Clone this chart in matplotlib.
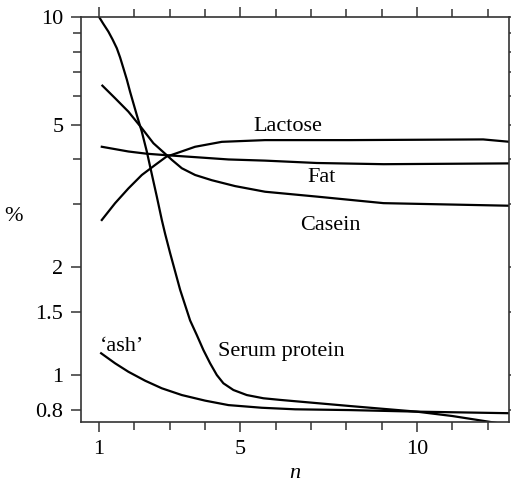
import numpy as np
import matplotlib.pyplot as plt
from matplotlib.ticker import FixedLocator, NullFormatter, FixedFormatter

plt.rcParams['font.family'] = ['Liberation Serif', 'DejaVu Serif']
plt.rcParams['font.size'] = 16

# values (n, percent)
serum_n = [1.0, 1.113, 1.263, 1.382, 1.501, 1.594, 1.688, 1.784, 1.877, 2.067, 2.209, 2.35, 2.444, 2.633,
           2.775, 2.868, 3.01, 3.293, 3.576, 3.765, 3.952, 4.142, 4.331, 4.518, 4.801, 5.18, 5.65, 6.123,
           8.104, 9.0, 9.99, 11.0, 12.01, 12.6]
serum_y = [10.0, 9.59, 9.10, 8.65, 8.18, 7.71, 7.19, 6.69, 6.18, 5.32, 4.78, 4.21, 3.82, 3.15,
           2.71, 2.48, 2.19, 1.73, 1.42, 1.293, 1.174, 1.078, 1.0, 0.948, 0.908, 0.879, 0.861, 0.852,
           0.819, 0.805, 0.79, 0.768, 0.741, 0.725]

ash_n = [1.057, 1.453, 1.829, 2.302, 2.775, 3.341, 4.0, 4.66, 5.605, 6.548, 8.1, 10.0, 12.63]
ash_y = [1.15, 1.078, 1.021, 0.964, 0.918, 0.879, 0.848, 0.824, 0.810, 0.802, 0.798, 0.790, 0.782]

fat_n = [1.076, 1.83, 2.35, 2.916, 3.717, 4.66, 5.7, 7.16, 9.05, 12.63]
fat_y = [4.34, 4.21, 4.15, 4.11, 4.06, 4.00, 3.97, 3.91, 3.88, 3.90]

lactose_n = [1.076, 1.453, 1.829, 2.209, 2.585, 2.916, 3.058, 3.717, 4.473, 5.698, 8.1, 11.87, 12.63]
lactose_y = [2.71, 3.02, 3.32, 3.62, 3.86, 4.08, 4.12, 4.34, 4.48, 4.53, 4.53, 4.55, 4.48]

casein_n = [1.093, 1.453, 1.829, 2.209, 2.537, 2.916, 3.058, 3.341, 3.717, 4.19, 4.849, 5.698, 7.16, 9.05, 12.63]
casein_y = [6.43, 5.93, 5.44, 4.89, 4.44, 4.11, 3.99, 3.78, 3.62, 3.50, 3.37, 3.25, 3.15, 3.02, 2.97]

labels = ['Lactose', 'Fat', 'Casein', 'Serum protein', '\u2018ash\u2019']
label_n = [6.35, 7.31, 7.54, 6.15, 1.65]
label_y = [4.96, 3.57, 2.61, 1.162, 1.2]

xticks_major = [1, 5, 10]
xticks_minor = [2, 3, 4, 6, 7, 8, 9, 11, 12]
yticks_major = [0.8, 1, 1.5, 2, 5, 10]
yticks_minor = [3, 4, 6, 7, 8, 9]
ytick_labels = ['0.8', '1', '1.5', '2', '5', '10']

fig = plt.figure(figsize=(5.11, 4.84), dpi=100)
ax = fig.add_axes([0.158, 0.1287, 0.838, 0.8362])

for xs, ys in [(serum_n, serum_y), (ash_n, ash_y), (fat_n, fat_y),
               (lactose_n, lactose_y), (casein_n, casein_y)]:
    ax.plot(xs, ys, color='black', lw=1.6, solid_joinstyle='round')

for t, xn, yv in zip(labels, label_n, label_y):
    ax.text(xn, yv, t, ha='center', va='center', fontsize=16)

ax.set_yscale('log')
ax.set_xlim(0.48, 12.6)
ax.set_ylim(0.7405, 10)

ax.xaxis.set_major_locator(FixedLocator(xticks_major))
ax.xaxis.set_minor_locator(FixedLocator(xticks_minor))
ax.set_xticklabels(['1', '5', '10'])
ax.yaxis.set_major_locator(FixedLocator(yticks_major))
ax.yaxis.set_major_formatter(FixedFormatter(ytick_labels))
ax.yaxis.set_minor_locator(FixedLocator(yticks_minor))
ax.yaxis.set_minor_formatter(NullFormatter())

for s in ax.spines.values():
    s.set_color('#333333')
    s.set_linewidth(1.2)
ax.tick_params(which='both', direction='out', top=True, right=True,
               color='#333333', width=1.1)
ax.tick_params(which='major', length=7.5)
ax.tick_params(which='minor', length=5.8)
ax.tick_params(axis='x', which='major', pad=6, labelsize=16)
ax.tick_params(axis='y', which='major', pad=5, labelsize=16)

ax.set_xlabel('n', style='italic', fontsize=16)
ax.xaxis.label.set_va('baseline')
ax.xaxis.set_label_coords(0.5, -0.139)
ax.set_ylabel('%', rotation=0, fontsize=16)
ax.yaxis.label.set_va('center')
ax.yaxis.set_label_coords(-0.156, 0.508)

fig.savefig('out.png', dpi=100)
